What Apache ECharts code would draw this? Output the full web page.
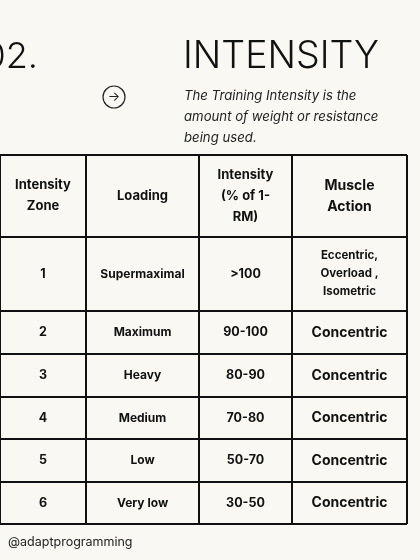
<!DOCTYPE html>
<html><head><meta charset="utf-8">
<script src="https://cdn.jsdelivr.net/npm/echarts@6/dist/echarts.min.js"></script>
<style>html,body{margin:0;padding:0;background:#f9f8f3}#c{width:420px;height:560px}</style>
</head><body><div id="c"></div>
<script>
const headers = ["Intensity\nZone", "Loading", "Intensity\n(% of 1-\nRM)", "Muscle\nAction"];
const zones = ["1", "2", "3", "4", "5", "6"];
const loadings = ["Supermaximal", "Maximum", "Heavy", "Medium", "Low", "Very low"];
const intensities = [">100", "90-100", "80-90", "70-80", "50-70", "30-50"];
const actions = ["Eccentric,\nOverload ,\nIsometric", "Concentric", "Concentric", "Concentric", "Concentric", "Concentric"];

const colX = [0, 86, 199, 292, 407];
const rowY = [155, 237, 311, 354, 397, 439, 482, 524];
const g = [];
const F = "Inter, 'Noto Sans', sans-serif";
g.push({type:'text', x:38, y:57, style:{text:'02.', font:'300 36px '+F, fill:'#111', align:'right', verticalAlign:'middle'}});
g.push({type:'text', left:183, top:38, style:{text:'INTENSITY', font:'300 37.5px '+F, fill:'#111'}});
g.push({type:'circle', shape:{cx:114, cy:97, r:11}, style:{fill:'none', stroke:'#222', lineWidth:1.2}});
g.push({type:'text', x:114, y:97, style:{text:'→', font:'13px '+F, fill:'#222', align:'center', verticalAlign:'middle'}});
g.push({type:'text', left:184, top:86, style:{text:'The Training Intensity is the\namount of weight or resistance\nbeing used.', font:'italic 13.2px '+F, fill:'#222', lineHeight:21}});
g.push({type:'text', left:8, top:536, style:{text:'@adaptprogramming', font:'12.5px '+F, fill:'#222'}});
for (let i=0;i<rowY.length;i++) g.push({type:'line', shape:{x1:0,y1:rowY[i],x2:407,y2:rowY[i]}, style:{stroke:'#111', lineWidth:2}});
for (let j=0;j<colX.length;j++) g.push({type:'line', shape:{x1:colX[j],y1:155,x2:colX[j],y2:524}, style:{stroke:'#111', lineWidth:2}});
function cell(c, r, txt, size, lh) {
  g.push({type:'text', x:(colX[c]+colX[c+1])/2, y:(rowY[r]+rowY[r+1])/2,
    style:{text:txt, font:'bold '+size+'px '+F, fill:'#111', align:'center', verticalAlign:'middle', lineHeight:lh}});
}
headers.forEach((h,c)=>cell(c,0,h,c===3?14:13,21));
for (let r=0;r<zones.length;r++){
  cell(0,r+1,zones[r],12.5,18);
  cell(1,r+1,loadings[r],12,18);
  cell(2,r+1,intensities[r],12.5,18);
  cell(3,r+1,actions[r], r===0?11.5:14, 18);
}
const chart = echarts.init(document.getElementById('c'));
chart.setOption({backgroundColor:'#f9f8f3', graphic:g});
</script></body></html>
